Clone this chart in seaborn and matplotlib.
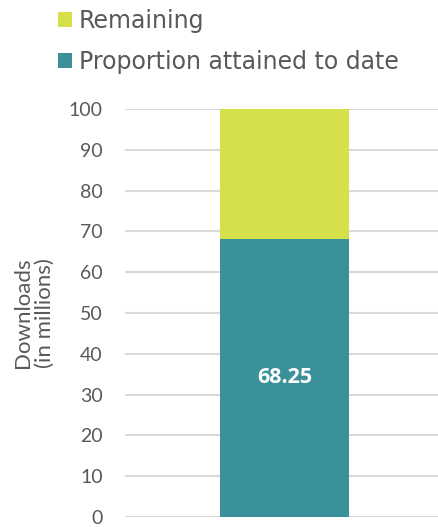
import matplotlib
matplotlib.use("Agg")
import matplotlib.pyplot as plt
from matplotlib.patches import Patch
import seaborn as sns
import pandas as pd

categories = ["Downloads"]
attained = [68.25]
remaining = [31.75]
series_names = ["Remaining", "Proportion attained to date"]
y_ticks = [0, 10, 20, 30, 40, 50, 60, 70, 80, 90, 100]

TEAL = "#3A9199"
LIME = "#D5E04B"
GRAY = "#595959"

sns.set_theme(style="white")
plt.rcParams['font.family'] = ['Lato', 'DejaVu Sans']

totals = [a + r for a, r in zip(attained, remaining)]
df = pd.DataFrame({"cat": categories, "attained": attained, "total": totals})

fig = plt.figure(figsize=(4.38, 5.27), dpi=100)
ax = fig.add_axes([0.2854, 0.019, 0.7146, 0.7742])

sns.barplot(data=df, x="cat", y="total", color=LIME, saturation=1, width=0.41, ax=ax, zorder=3)
sns.barplot(data=df, x="cat", y="attained", color=TEAL, saturation=1, width=0.41, ax=ax, zorder=3)

for p in ax.patches:
    p.set_edgecolor("none")
    p.set_x(p.get_x() + 0.01)

for i, v in enumerate(attained):
    ax.text(i + 0.01, v / 2, f"{v:.2f}", ha="center", va="center", color="white",
            fontsize=15.5, fontweight="bold", family=["Open Sans", "DejaVu Sans"])

ax.set_ylim(0, 100)
ax.set_xlim(-0.5, 0.5)
ax.set_yticks(y_ticks)
ax.set_yticklabels([str(t) for t in y_ticks], color=GRAY, fontsize=14)
ax.set_xticks([])
ax.set_xlabel("")
ax.set_ylabel("Downloads\n(in millions)", color=GRAY, fontsize=16, labelpad=10, linespacing=1.1)
ax.yaxis.grid(True, color="#D9D9D9", linewidth=1.5, zorder=0)
ax.set_axisbelow(True)
ax.tick_params(axis="y", length=0, pad=16)
for s in ax.spines.values():
    s.set_visible(False)

handles = [Patch(facecolor=LIME, edgecolor="none"), Patch(facecolor=TEAL, edgecolor="none")]
fig.legend(handles, series_names, loc="upper left", bbox_to_anchor=(0.083, 1.024),
           frameon=False, labelcolor=GRAY, handlelength=0.6, handleheight=0.6,
           handletextpad=0.3, labelspacing=0.75, prop={"family": ["DejaVu Sans"], "size": 17})

fig.savefig("out.png", dpi=100)
